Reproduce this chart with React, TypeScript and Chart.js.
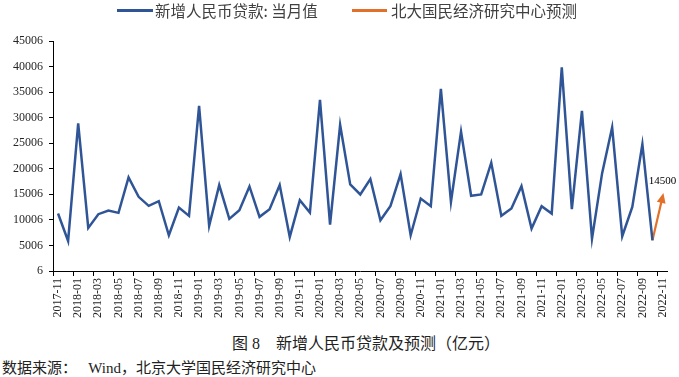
import React, { useEffect, useRef } from 'react';
import { Chart, registerables } from 'chart.js';

Chart.register(...registerables);

const categories = [
  '2017-11', '2017-12',
  '2018-01', '2018-02', '2018-03', '2018-04', '2018-05', '2018-06', '2018-07', '2018-08', '2018-09', '2018-10', '2018-11', '2018-12',
  '2019-01', '2019-02', '2019-03', '2019-04', '2019-05', '2019-06', '2019-07', '2019-08', '2019-09', '2019-10', '2019-11', '2019-12',
  '2020-01', '2020-02', '2020-03', '2020-04', '2020-05', '2020-06', '2020-07', '2020-08', '2020-09', '2020-10', '2020-11', '2020-12',
  '2021-01', '2021-02', '2021-03', '2021-04', '2021-05', '2021-06', '2021-07', '2021-08', '2021-09', '2021-10', '2021-11', '2021-12',
  '2022-01', '2022-02', '2022-03', '2022-04', '2022-05', '2022-06', '2022-07', '2022-08', '2022-09', '2022-10', '2022-11',
];

// 新增人民币贷款: 当月值 (亿元), 2017-11 .. 2022-10
const loanValues: (number | null)[] = [
  11250, 5890,
  28900, 8440, 11120, 11840, 11380, 18310, 14520, 12750, 13670, 7000, 12430, 10790,
  32310, 8830, 16810, 10200, 11900, 16550, 10600, 12100, 16810, 6670, 13870, 11450,
  33490, 9090, 28580, 16940, 14980, 17990, 9940, 12750, 18970, 7000, 14190, 12690,
  35640, 13540, 27270, 14720, 14980, 21190, 10790, 12230, 16610, 8310, 12690, 11250,
  39830, 12100, 31330, 6340, 19100, 28120, 6800, 12560, 24790, 6020,
  null,
];

// 北大国民经济研究中心预测 (2022-11)
const forecastValue = 14500;

const yTickValues = [6, 5006, 10006, 15006, 20006, 25006, 30006, 35006, 40006, 45006];

const BLUE = '#2F5597';
const ORANGE = '#E2702A';

const forecastData: (number | null)[] = categories.map((_, i) => {
  if (i === categories.length - 1) return forecastValue;
  if (i === categories.length - 2) return loanValues[i];
  return null;
});

const arrowPlugin = {
  id: 'arrowPlugin',
  afterDatasetsDraw(chart: any) {
    const meta = chart.getDatasetMeta(1);
    const n = meta.data.length;
    if (n < 2) return;
    const p0 = meta.data[n - 2];
    const p1 = meta.data[n - 1];
    const ctx = chart.ctx;
    const ang = Math.atan2(p1.y - p0.y, p1.x - p0.x);
    const tipX = p1.x + Math.cos(ang) * 4;
    const tipY = p1.y + Math.sin(ang) * 4;
    const len = 10;
    const hw = 4.5;
    const bx = tipX - Math.cos(ang) * len;
    const by = tipY - Math.sin(ang) * len;
    ctx.save();
    ctx.fillStyle = ORANGE;
    ctx.beginPath();
    ctx.moveTo(tipX, tipY);
    ctx.lineTo(bx + Math.cos(ang + Math.PI / 2) * hw, by + Math.sin(ang + Math.PI / 2) * hw);
    ctx.lineTo(bx - Math.cos(ang + Math.PI / 2) * hw, by - Math.sin(ang + Math.PI / 2) * hw);
    ctx.closePath();
    ctx.fill();
    ctx.fillStyle = '#000';
    ctx.font = '11px "Liberation Serif", serif';
    ctx.textAlign = 'center';
    ctx.textBaseline = 'middle';
    ctx.fillText(String(forecastValue), p1.x, p1.y - 16);
    ctx.restore();
  },
};

export default function App() {
  const canvasRef = useRef<HTMLCanvasElement | null>(null);

  useEffect(() => {
    if (!canvasRef.current) return;
    const chart = new Chart(canvasRef.current, {
      type: 'line',
      data: {
        labels: categories,
        datasets: [
          {
            label: '新增人民币贷款: 当月值',
            data: loanValues,
            borderColor: BLUE,
            backgroundColor: BLUE,
            borderWidth: 2.5,
            pointRadius: 0,
            tension: 0,
            spanGaps: false,
          },
          {
            label: '北大国民经济研究中心预测',
            data: forecastData,
            borderColor: ORANGE,
            backgroundColor: ORANGE,
            borderWidth: 2.2,
            pointRadius: 0,
            tension: 0,
          },
        ],
      },
      options: {
        responsive: true,
        maintainAspectRatio: false,
        animation: false,
        layout: { padding: { top: 41, right: 9, left: 0, bottom: 0 } },
        plugins: {
          legend: { display: false },
          tooltip: { enabled: false },
        },
        scales: {
          x: {
            type: 'category',
            offset: true,
            afterFit: (scale: any) => {
              scale.height = 59;
            },
            border: { display: true, color: '#000', width: 1 },
            grid: {
              offset: true,
              drawOnChartArea: false,
              drawTicks: true,
              tickLength: 5,
              color: (c: any) => (c.index % 2 === 0 ? '#000' : 'rgba(0,0,0,0)'),
              tickColor: (c: any) => (c.index % 2 === 0 ? '#000' : 'rgba(0,0,0,0)'),
            },
            ticks: {
              autoSkip: false,
              maxRotation: 90,
              minRotation: 90,
              padding: 2,
              color: '#262626',
              font: { family: 'Liberation Serif', size: 12 },
              callback: (_v: any, i: number) => (i % 2 === 0 ? categories[i] : ''),
            },
          },
          y: {
            type: 'linear',
            min: 6,
            max: 45006,
            afterFit: (scale: any) => {
              scale.width = 53;
            },
            afterBuildTicks: (scale: any) => {
              scale.ticks = yTickValues.map((v) => ({ value: v }));
            },
            border: { display: true, color: '#000', width: 1 },
            grid: {
              drawOnChartArea: false,
              drawTicks: true,
              tickLength: 4,
              color: '#000',
            },
            ticks: {
              padding: 6,
              color: '#262626',
              font: { family: 'Liberation Serif', size: 12 },
              callback: (v: any) => String(v),
            },
          },
        },
      },
      plugins: [arrowPlugin],
    });
    return () => chart.destroy();
  }, []);

  const cjk = '"Noto Sans CJK SC", sans-serif';
  const serifCjk = '"Liberation Serif", "Noto Sans CJK SC", serif';

  return (
    <div style={{ position: 'absolute', left: 0, top: 0, width: 679, height: 377, background: '#fff', overflow: 'hidden' }}>
      <div style={{ position: 'absolute', left: 0, top: 0, width: 679, height: 330 }}>
        <canvas ref={canvasRef} />
      </div>
      <div style={{ position: 'absolute', left: 117, top: 9, width: 36, height: 2.5, background: BLUE }} />
      <div style={{ position: 'absolute', left: 155, top: 0, height: 20, lineHeight: '20px', fontSize: 15.5, fontFamily: cjk, color: '#404040', whiteSpace: 'nowrap' }}>
        新增人民币贷款: 当月值
      </div>
      <div style={{ position: 'absolute', left: 352, top: 9, width: 35, height: 2.5, background: ORANGE }} />
      <div style={{ position: 'absolute', left: 391, top: 0, height: 20, lineHeight: '20px', fontSize: 15.5, fontFamily: cjk, color: '#404040', whiteSpace: 'nowrap' }}>
        北大国民经济研究中心预测
      </div>
      <div style={{ position: 'absolute', left: 232, top: 334, height: 20, lineHeight: '20px', fontSize: 16, fontFamily: serifCjk, color: '#222', whiteSpace: 'pre' }}>
        {'图 8    新增人民币贷款及预测（亿元）'}
      </div>
      <div style={{ position: 'absolute', left: 2, top: 358, height: 20, lineHeight: '20px', fontSize: 15, fontFamily: serifCjk, color: '#222', whiteSpace: 'pre' }}>
        {'数据来源：   Wind，北京大学国民经济研究中心'}
      </div>
    </div>
  );
}
